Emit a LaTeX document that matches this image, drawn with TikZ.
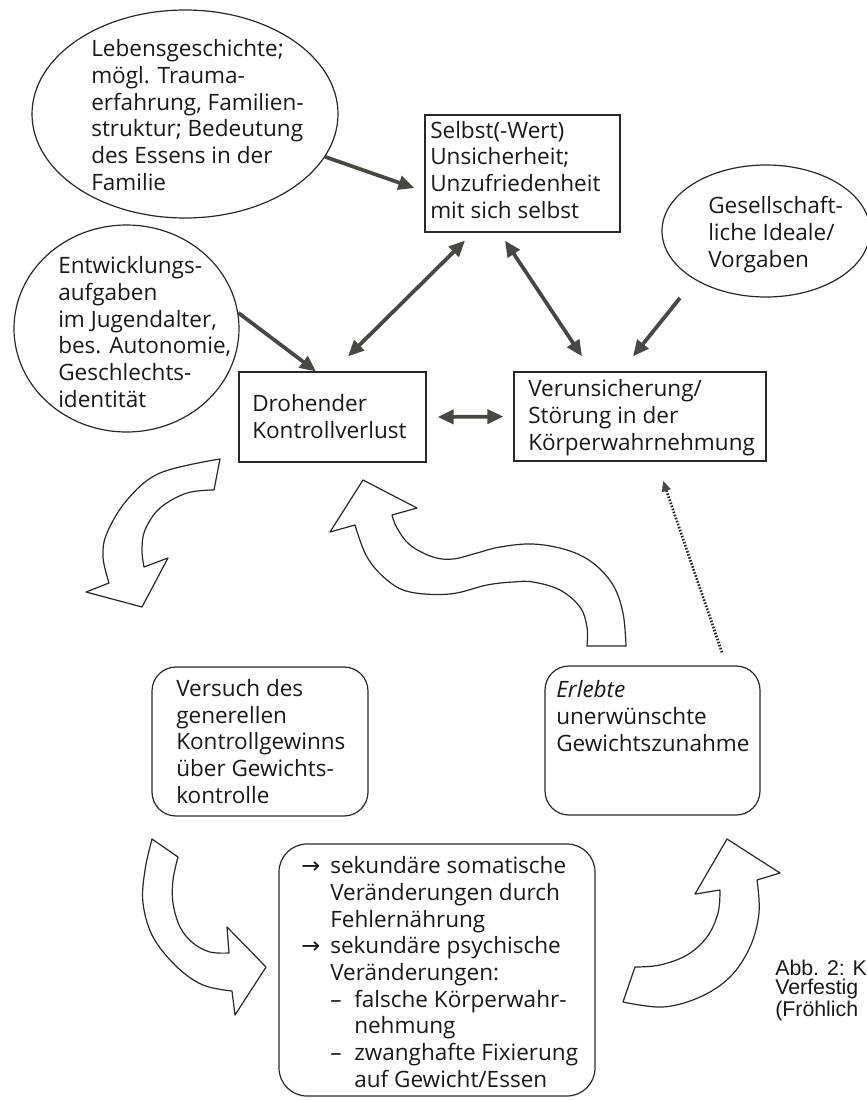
\documentclass[tikz,border=0pt]{standalone}
\usepackage{fontspec}
\setmainfont{Open Sans}
\newfontfamily\diagfont{Open Sans}
\newfontfamily\capfont{Liberation Sans}
\newfontfamily\arrowfont{DejaVu Sans}
\usetikzlibrary{arrows.meta,shapes.geometric,calc}
\definecolor{arrowcol}{RGB}{72,72,64}
\definecolor{linecol}{RGB}{40,40,40}
\definecolor{textcol}{RGB}{25,25,25}
\tikzset{
  txt/.style={anchor=base west, align=left, inner sep=0pt, text=textcol,
    font=\diagfont\fontsize{16.9pt}{20pt}\selectfont},
  capt/.style={anchor=base west, align=left, inner sep=0pt, text=textcol,
    font=\capfont\fontsize{16pt}{14.7pt}\selectfont},
  ell/.style={draw=linecol, ellipse, line width=0.9pt, inner sep=0pt},
  sqbox/.style={draw=linecol, rectangle, line width=0.9pt, inner sep=0pt},
  rndbox/.style={draw=linecol, rectangle, rounded corners=18pt, line width=0.9pt, inner sep=0pt},
  conn/.style={draw=arrowcol, line width=2.8pt, -{Triangle[length=12pt,width=10.5pt]}},
  dconn/.style={draw=arrowcol, line width=2.8pt, {Triangle[length=12pt,width=10.5pt]}-{Triangle[length=12pt,width=10.5pt]}},
  dotconn/.style={draw=black!85, line width=2pt, dash pattern=on 1.2pt off 1.2pt, -{Triangle[length=8pt,width=6.5pt,color=arrowcol]}},
  hollow/.style={draw=linecol, line width=0.9pt, fill=white, line join=round}
}
\begin{document}
\begin{tikzpicture}[x=0.75pt,y=-0.75pt]
\useasboundingbox (0,0) rectangle (867,1100);

% hollow curved arrows (drawn first so nothing is hidden)
\draw[hollow] (220,459) -- plot[smooth, tension=0.6] coordinates {(220,459) (160,473) (127,500) (107,533) (103,557) (109,583)}
  -- (86,592) -- (142,607) -- (168,558) -- (144,567)
  -- plot[smooth, tension=0.6] coordinates {(144,567) (142,550) (145,530) (160,508) (187,493) (214,490)} -- cycle;

\draw[hollow] (363,480) -- (417,508) -- (392,515)
  -- plot[smooth, tension=0.6] coordinates {(392,515) (397,528) (410,545) (433,557) (453,559) (477,553) (500,547) (533,544) (567,550) (593,563) (613,585) (623,613) (626,646)}
  -- (587,646)
  -- plot[smooth, tension=0.6] coordinates {(587,646) (587,627) (580,607) (560,590) (533,582) (513,582) (487,585) (450,594) (410,592) (387,580) (367,557) (355,525)}
  -- (330,532) -- cycle;

\draw[hollow] (152,839) -- (178,857)
  -- plot[smooth, tension=0.6] coordinates {(178,857) (173,880) (173,903) (180,927) (193,943) (210,952) (229,953)}
  -- (227,927) -- (266,967) -- (235,1015) -- (232,991)
  -- plot[smooth, tension=0.6] coordinates {(232,991) (203,985) (177,967) (153,937) (143,903) (145,870) (152,839)} -- cycle;

\draw[hollow] (623,1002) -- (635,967)
  -- plot[smooth, tension=0.6] coordinates {(635,967) (660,965) (687,955) (707,937) (718,913) (720,890)}
  -- (695,894) -- (727,839) -- (780,873) -- (757,880)
  -- plot[smooth, tension=0.6] coordinates {(757,880) (759,913) (750,947) (730,977) (700,997) (663,1007) (623,1002)} -- cycle;

% shapes
\node[ell, minimum width=229.5pt, minimum height=156pt] (e1) at (185,114) {};
\node[ell, minimum width=168.75pt, minimum height=155.25pt] (e2) at (126.5,328.5) {};
\node[ell, minimum width=156pt, minimum height=99pt] (e3) at (766,231) {};
\node[sqbox, minimum width=146.25pt, minimum height=87.75pt] (selbst) at (522.5,173.5) {};
\node[sqbox, minimum width=140.25pt, minimum height=67.5pt] (droh) at (332.5,417) {};
\node[sqbox, minimum width=189pt, minimum height=66.75pt] (verun) at (640,416.5) {};
\node[rndbox, minimum width=162pt, minimum height=111.75pt] (versuch) at (260,741.5) {};
\node[rndbox, minimum width=161.25pt, minimum height=111.75pt] (erlebte) at (652.5,740.5) {};
\node[rndbox, rounded corners=21pt, minimum width=237pt, minimum height=189pt] (folgen) at (437,970) {};

% texts (anchored at the baseline of their last line)
\node[txt] (t1) at (91,190) {Lebensgeschichte;\\mögl. Trauma-\\erfahrung, Familien-\\struktur; Bedeutung\\des Essens in der\\Familie};
\node[txt] (t2) at (58,407) {Entwicklungs-\\aufgaben\\im Jugendalter,\\bes. Autonomie,\\Geschlechts-\\identität};
\node[txt] (t3) at (708,267) {Gesellschaft-\\liche Ideale/\\Vorgaben};
\node[txt] (tselbst) at (430,218) {Selbst(-Wert)\\Unsicherheit;\\Unzufriedenheit\\mit sich selbst};
\node[txt] (tdroh) at (252,438) {Drohender\\Kontrollverlust};
\node[txt] (tverun) at (528,450) {Verunsicherung/\\Störung in der\\Körperwahrnehmung};
\node[txt] (tversuch) at (176,803) {Versuch des\\generellen\\Kontrollgewinns\\über Gewichts-\\kontrolle};
\node[txt] (terlebte) at (556,751) {\textit{Erlebte}\\unerwünschte\\Gewichtszunahme};
\node[txt] (tfolgen) at (301,1087) {\makebox[21.75pt][l]{\arrowfont →}sekundäre somatische\\
\hspace*{21.75pt}Veränderungen durch\\
\hspace*{21.75pt}Fehlernährung\\
\makebox[21.75pt][l]{\arrowfont →}sekundäre psychische\\
\hspace*{21.75pt}Veränderungen:\\
\hspace*{21.75pt}\makebox[18pt][l]{–}falsche Körperwahr-\\
\hspace*{39.75pt}nehmung\\
\hspace*{21.75pt}\makebox[18pt][l]{–}zwanghafte Fixierung\\
\hspace*{39.75pt}auf Gewicht/Essen};
\node[capt] (caption) at (775,1016) {Abb. 2: K\\Verfestig\\(Fröhlich};

% connectors
\draw[conn] (e1.-17) -- ([shift={(-10,14.5)}]selbst.west);
\draw[conn] (e2.8) -- ([shift={(-16.5,0)}]droh.north);
\draw[dconn] ([shift={(15.5,-15)}]droh.north) -- ([shift={(-57.5,8)}]selbst.south);
\draw[dconn] ([shift={(-17.5,8)}]selbst.south) -- ([shift={(-58,-15)}]verun.north);
\draw[conn] ([shift={(-86,67)}]e3.center) -- ([shift={(-7,-15)}]verun.north);
\draw[dconn] ([shift={(11,0)}]droh.east) -- ([shift={(-10,0)}]verun.west);
\draw[dotconn] ([shift={(69.5,-13)}]erlebte.north) -- ([shift={(23,19)}]verun.south);
\end{tikzpicture}
\end{document}
